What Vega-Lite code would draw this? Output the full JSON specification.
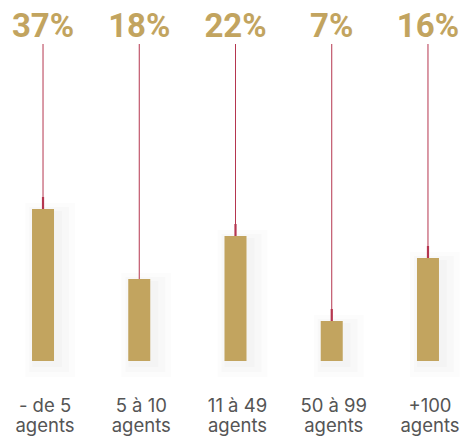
{
  "$schema": "https://vega.github.io/schema/vega-lite/v6.json",
  "width": 461,
  "height": 361,
  "autosize": {"type": "none"},
  "padding": {"left": 0, "right": 0, "top": 0, "bottom": 76},
  "background": "#ffffff",
  "config": {"view": {"stroke": null}},
  "data": {
    "values": [
      {"cat": "- de 5|agents", "pct": "37%", "value": 152, "marker": true},
      {"cat": "5 à 10|agents", "pct": "18%", "value": 82, "marker": false},
      {"cat": "11 à 49|agents", "pct": "22%", "value": 125, "marker": true},
      {"cat": "50 à 99|agents", "pct": "7%", "value": 40, "marker": true},
      {"cat": "+100|agents", "pct": "16%", "value": 103, "marker": true}
    ]
  },
  "encoding": {
    "x": {
      "field": "cat",
      "type": "nominal",
      "sort": null,
      "scale": {"range": [32, 439], "paddingInner": 0.771, "paddingOuter": 0},
      "axis": {
        "title": null,
        "orient": "bottom",
        "domain": false,
        "ticks": false,
        "grid": false,
        "labelAngle": 0,
        "labelExpr": "split(datum.label, '|')",
        "labelFont": "Inter",
        "labelFontSize": 18.5,
        "labelColor": "#555555",
        "labelLineHeight": 20,
        "labelPadding": 35,
        "labelOffset": 2,
        "labelBaseline": "top"
      }
    }
  },
  "layer": [
    {
      "mark": {"type": "bar", "color": "#000000", "opacity": 0.012, "size": 50, "xOffset": 7, "y2Offset": 16, "yOffset": -6},
      "encoding": {
        "y": {"field": "value", "type": "quantitative", "scale": {"domain": [0, 361], "nice": false, "zero": false}, "axis": null},
        "y2": {"datum": 0}
      }
    },
    {
      "mark": {"type": "bar", "color": "#000000", "opacity": 0.015, "size": 40, "xOffset": 6, "y2Offset": 11, "yOffset": -2},
      "encoding": {
        "y": {"field": "value", "type": "quantitative"},
        "y2": {"datum": 0}
      }
    },
    {
      "mark": {"type": "bar", "color": "#000000", "opacity": 0.015, "size": 30, "xOffset": 4, "y2Offset": 6, "yOffset": 2},
      "encoding": {
        "y": {"field": "value", "type": "quantitative"},
        "y2": {"datum": 0}
      }
    },
    {
      "mark": {"type": "bar", "color": "#c2a45f", "size": 22},
      "encoding": {
        "y": {"field": "value", "type": "quantitative"},
        "y2": {"datum": 0}
      }
    },
    {
      "mark": {"type": "rule", "color": "#b5364f", "strokeWidth": 1},
      "encoding": {
        "y": {"field": "value", "type": "quantitative"},
        "y2": {"datum": 317}
      }
    },
    {
      "transform": [{"filter": "datum.marker"}],
      "mark": {"type": "rule", "color": "#b5364f", "strokeWidth": 2.2, "y2Offset": -12},
      "encoding": {
        "y": {"field": "value", "type": "quantitative"},
        "y2": {"field": "value"}
      }
    },
    {
      "mark": {"type": "text", "font": "Roboto", "fontWeight": "bold", "fontSize": 33, "color": "#c2a45f", "baseline": "alphabetic", "align": "center"},
      "encoding": {
        "y": {"datum": 324},
        "text": {"field": "pct"}
      }
    }
  ]
}
